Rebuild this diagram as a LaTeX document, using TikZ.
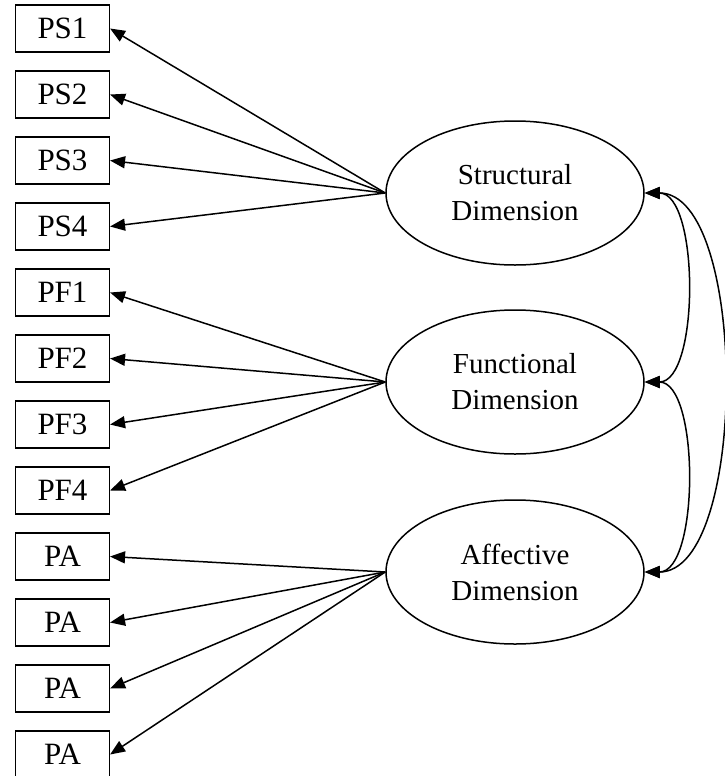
\documentclass[tikz,border=0pt]{standalone}
\usepackage{fontspec}
\setmainfont{Liberation Serif}
\usetikzlibrary{shapes.geometric,arrows.meta}
\begin{document}
\begin{tikzpicture}[x=0.5pt,y=-0.5pt,
  obs/.style={draw,line width=0.75pt,minimum width=46.8pt,minimum height=23.5pt,inner sep=0pt,font=\fontsize{15.5}{18}\selectfont},
  lat/.style={draw,ellipse,line width=0.75pt,minimum width=129pt,minimum height=72pt,inner sep=0pt,align=center,font=\fontsize{14.5}{18}\selectfont},
  load/.style={line width=0.75pt,-{Triangle[length=7.5pt,width=6pt]}},
  cov/.style={line width=0.75pt,{Triangle[length=7.5pt,width=6pt]}-{Triangle[length=7.5pt,width=6pt]}}]
\useasboundingbox (0,0) rectangle (724,776);
\foreach \n/\t [count=\i from 0] in {ps1/PS1,ps2/PS2,ps3/PS3,ps4/PS4,pf1/PF1,pf2/PF2,pf3/PF3,pf4/PF4,pa1/PA,pa2/PA,pa3/PA,pa4/PA}
  \node[obs] (\n) at (62.5,{28.5+66*\i}) {\t};
\node[lat] (s) at (515,193) {Structural\\Dimension};
\node[lat] (f) at (515,382) {Functional\\Dimension};
\node[lat] (a) at (515,572) {Affective\\Dimension};
\foreach \b in {ps1,ps2,ps3,ps4} \draw[load] (s.west) -- (\b.east);
\foreach \b in {pf1,pf2,pf3,pf4} \draw[load] (f.west) -- (\b.east);
\foreach \b in {pa1,pa2,pa3,pa4} \draw[load] (a.west) -- (\b.east);
\draw[cov] (s.east) .. controls +(55,0) and +(55,0) .. (f.east);
\draw[cov] (f.east) .. controls +(55,0) and +(55,0) .. (a.east);
\draw[cov] (s.east) .. controls +(104,0) and +(104,0) .. (a.east);
\end{tikzpicture}
\end{document}
